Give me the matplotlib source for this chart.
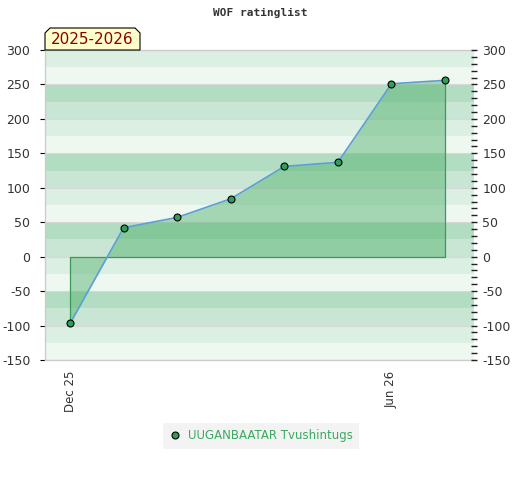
import matplotlib.pyplot as plt
from matplotlib.patches import Polygon
from matplotlib.ticker import MultipleLocator

plt.rcParams['axes.unicode_minus'] = False

# Dati
months = [0, 1, 2, 3, 4, 5, 6, 7]
ratings = [-97, 42, 57, 84, 131, 137, 251, 256]
tick_pos = [0, 6]
tick_labels = ["Dec 25", "Jun 26"]
player = "UUGANBAATAR Tvushintugs"
season = "2025-2026"

band_colors = ['#dcefe3', '#eff7f1', '#b3ddc2', '#c8e6d3']

W, H = 520, 480
fig = plt.figure(figsize=(5.2, 4.8), dpi=100)
ax = fig.add_axes([45/W, 120/H, 429/W, 310/H])

ymin, ymax = -150, 300
# bande orizzontali
for k, top in enumerate(range(ymax, ymin, -25)):
    ax.axhspan(top - 25, top, color=band_colors[k % 4], lw=0, zorder=0)
for y in range(ymin, ymax + 1, 50):
    ax.axhline(y, color='#d8d8d8', lw=0.8, zorder=0.5)

# area riempita
ax.fill_between(months, ratings, 0, color='#4caf6a', alpha=0.45, lw=0, zorder=1)
ax.plot([months[0], months[0], months[-1], months[-1]],
        [ratings[0], 0, 0, ratings[-1]], color='#3a9a58', lw=0.9, zorder=2)
ax.plot(months, ratings, color='#5b9fd6', lw=1.2, zorder=3)
ax.plot(months, ratings, 'o', color='#2e9e58', mec='black', mew=0.8, ms=5, zorder=4)

ax.set_xlim(-0.467, 7.54)
ax.set_ylim(ymin, ymax)
ax.set_xticks(tick_pos)
ax.set_xticklabels(tick_labels, rotation=90, fontsize=8.5, color='#333333')
ax.tick_params(axis='x', length=0, pad=8)
ax.yaxis.set_major_locator(MultipleLocator(50))
ax.tick_params(axis='y', left=False, labelsize=9, labelcolor='#333333', pad=7)

# asse destro
ax2 = ax.twinx()
ax2.set_ylim(ymin, ymax)
ax2.yaxis.set_major_locator(MultipleLocator(50))
ax2.yaxis.set_minor_locator(MultipleLocator(10))
ax2.tick_params(axis='y', which='both', direction='inout', length=4, width=1,
                color='#222222', labelsize=9, labelcolor='#333333', pad=4)

for a in (ax, ax2):
    for s in ('top', 'right', 'left', 'bottom'):
        a.spines[s].set_visible(False)
for s in ('left', 'bottom', 'top'):
    ax.spines[s].set_visible(True)
    ax.spines[s].set_color('#cccccc')
    ax.spines[s].set_linewidth(1)

fig.text(0.5, 1 - 13/H, "WOF ratinglist", ha='center', va='center',
         fontsize=8, fontweight='bold', family='DejaVu Sans Mono', color='#333333')

# etichetta stagione con angoli smussati
x0, x1, y0, y1, b = 45, 140, 50, 28, 5
pts = [(x0, y0), (x0, y1 + b), (x0 + b, y1), (x1 - b, y1), (x1, y1 + b), (x1, y0)]
fig.patches.append(Polygon([(px / W, 1 - py / H) for px, py in pts], closed=True,
                           fc='#ffffcc', ec='black', lw=0.8,
                           transform=fig.transFigure, figure=fig, zorder=5))
fig.text((x0 + x1) / 2 / W, 1 - 39/H, season, ha='center', va='center', fontsize=11,
         color='#8b0000', zorder=6)

ax.plot([], [], 'o', color='#2e9e58', mec='black', mew=0.8, ms=5, label=player)
leg = fig.legend(loc='center', bbox_to_anchor=(261/W, 1 - 436/H), frameon=True,
                 fontsize=8.5, handletextpad=0.6, borderpad=0.25, handlelength=1.0)
leg.get_frame().set_facecolor('#f0f0f0')
leg.get_frame().set_edgecolor('none')
leg.get_frame().set_boxstyle('square')
for t in leg.get_texts():
    t.set_color('#3aaa60')

fig.savefig('out.png', dpi=100)
